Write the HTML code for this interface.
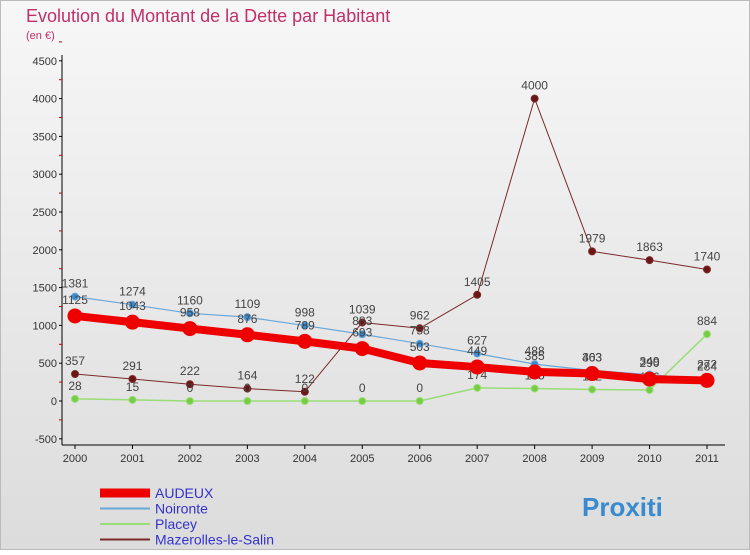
<!DOCTYPE html>
<html><head><meta charset="utf-8"><style>
body{margin:0;width:750px;height:550px;overflow:hidden;font-family:"Liberation Sans",sans-serif}
</style></head><body>
<svg width="750" height="550" xmlns="http://www.w3.org/2000/svg" font-family="Liberation Sans, sans-serif">
<defs><linearGradient id="bg" x1="0" y1="0" x2="0" y2="1"><stop offset="0" stop-color="#f7f7f7"/><stop offset="1" stop-color="#dcdcdc"/></linearGradient></defs>
<rect x="0.5" y="0.5" width="749" height="549" fill="url(#bg)" stroke="#bbb"/>
<text x="26" y="22" font-size="18" fill="#c0306a">Evolution du Montant de la Dette par Habitant</text>
<text x="26" y="39" font-size="11" fill="#c0306a">(en €)</text>
<g id="axes"></g><g id="series"></g><g id="legend"></g>
</svg>
<script>
const years=[2000,2001,2002,2003,2004,2005,2006,2007,2008,2009,2010,2011];
const yTicks=[-500,0,500,1000,1500,2000,2500,3000,3500,4000,4500];
const audeux=[1125,1043,958,876,789,693,503,449,385,363,290,272];
const noironte=[1381,1274,1160,1109,998,883,758,627,488,403,349,284];
const placey=[28,15,0,0,0,0,0,174,165,152,146,884];
const mazerolles=[357,291,222,164,122,1039,962,1405,4000,1979,1863,1740];
const NS="http://www.w3.org/2000/svg";
const X=i=>75+i*(707-75)/11;
const Y=v=>401-v*(37.8/500);
function mk(t,a,p){const e=document.createElementNS(NS,t);for(const k in a)e.setAttribute(k,a[k]);p.appendChild(e);return e;}
const ax=document.getElementById('axes');
let l=mk('line',{x1:62,y1:55,x2:62,y2:445,stroke:'#000'},ax);


l=mk('line',{x1:62,y1:445,x2:725,y2:445,stroke:'#000'},ax);


yTicks.forEach(v=>{const t=mk('text',{x:57,y:Y(v)+4,'font-size':11,'text-anchor':'end',fill:'#333'},ax);t.textContent=v;


mk('line',{x1:59,y1:Y(v),x2:62,y2:Y(v),stroke:'#000'},ax);
mk('line',{x1:59,y1:Y(v+250),x2:62,y2:Y(v+250),stroke:'#c00'},ax);});
years.forEach((y,i)=>{const t=mk('text',{x:X(i),y:462,'font-size':11,'text-anchor':'middle',fill:'#333'},ax);t.textContent=y;


mk('line',{x1:X(i),y1:445,x2:X(i),y2:449,stroke:'#000'},ax);});
const sg=document.getElementById('series');
function series(name,vals,color,w,r,fill,lblDy){
 const g=mk('g',{},sg);
 
 
 const p=mk('polyline',{points:vals.map((v,i)=>X(i)+','+Y(v)).join(' '),fill:'none',stroke:color,'stroke-width':w,'stroke-linejoin':'round'},g);
 
 
 vals.forEach((v,i)=>{const c=mk('circle',{cx:X(i),cy:Y(v),r:r,fill:fill,stroke:color,'stroke-width':1},g);
 
 
 const t=mk('text',{x:X(i),y:Y(v)+lblDy,'font-size':12,'text-anchor':'middle',fill:'#444'},g);t.textContent=v;
 
 });
}
series('mazerolles',mazerolles,'#7a2a2a',1,3.5,'#6b1515',-9);
series('placey',placey,'#99dd77',1.5,3.5,'#77cc44',-9);
series('noironte',noironte,'#6aa8d8',1.2,3.5,'#3a8ad0',-9);
series('audeux',audeux,'#ee0000',8,7,'#ee0000',-12);
const lg=document.getElementById('legend');
const items=[['AUDEUX','#ee0000',9],['Noironte','#6aa8d8',2],['Placey','#99dd77',2],['Mazerolles-le-Salin','#7a2a2a',2]];
items.forEach((it,i)=>{const y=493+i*15.5;
 const r=mk('line',{x1:100,y1:y,x2:150,y2:y,stroke:it[1],'stroke-width':it[2]},lg);
 
 
 const t=mk('text',{x:155,y:y+5,'font-size':14,fill:'#3333cc'},lg);t.textContent=it[0];
 
 });
const lo=mk('text',{x:582,y:516,'font-size':26,'font-weight':'bold',fill:'#3a8ad0'},lg);lo.textContent='Proxiti';


</script>
</body></html>
